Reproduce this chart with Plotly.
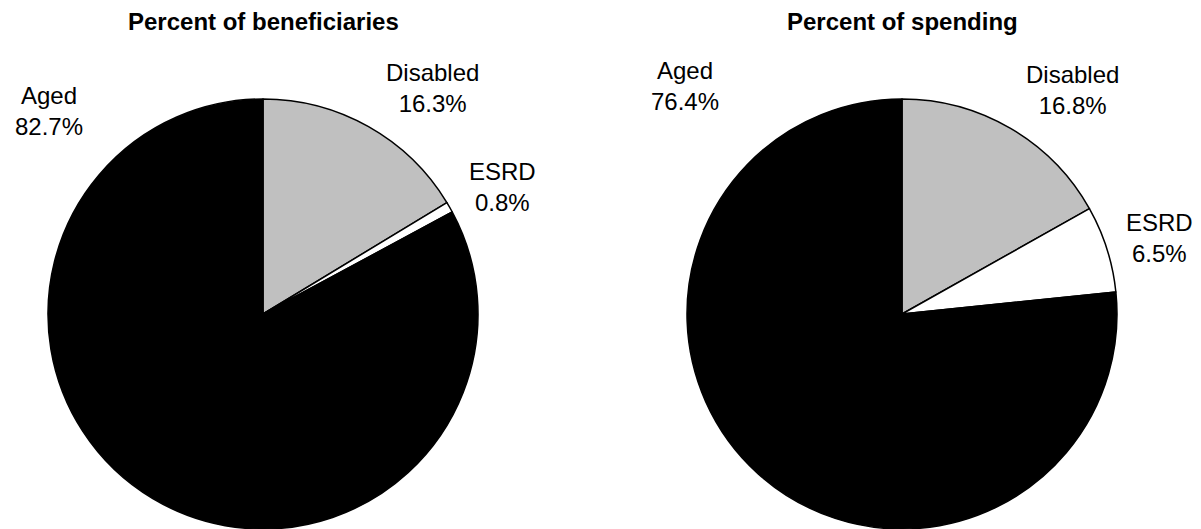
import plotly.graph_objects as go

# Medicare enrollment groups, clockwise from 12 o'clock
groups = ["Disabled", "ESRD", "Aged"]
beneficiaries_pct = [16.3, 0.8, 82.7]
spending_pct = [16.8, 6.5, 76.4]
titles = ["Percent of beneficiaries", "Percent of spending"]

slice_colors = ["#c0c0c0", "#ffffff", "#000000"]
FONT = "Liberation Sans, Arial, Helvetica, sans-serif"

W, H = 1201, 529

fig = go.Figure()

# pixel layout of the two pies (left, right, top, bottom)
pie_boxes = [(48, 478, 99, 529), (687, 1117, 99, 529)]

for vals, box in zip([beneficiaries_pct, spending_pct], pie_boxes):
    x0, x1, y0, y1 = box
    fig.add_trace(go.Pie(
        labels=groups,
        values=vals,
        sort=False,
        direction="clockwise",
        rotation=0,
        textinfo="none",
        hoverinfo="label+value",
        marker=dict(colors=slice_colors, line=dict(color="#000000", width=1.5)),
        domain=dict(x=[x0 / W, x1 / W], y=[1 - y1 / H, 1 - y0 / H]),
        showlegend=False,
    ))

# titles above each pie
title_pos = [(263, 21), (902, 21)]
annotations = []
for t, (px, py) in zip(titles, title_pos):
    annotations.append(dict(
        text=f"<b>{t}</b>", x=px / W, y=1 - py / H, xref="paper", yref="paper",
        xanchor="center", yanchor="middle", showarrow=False,
        font=dict(family=FONT, size=24, color="#000000"),
    ))

# slice labels placed outside each pie
label_pos = [
    {"Aged": (49, 111), "Disabled": (432, 88), "ESRD": (502, 187)},
    {"Aged": (685, 86), "Disabled": (1072, 90), "ESRD": (1159, 238)},
]
for vals, pos in zip([beneficiaries_pct, spending_pct], label_pos):
    for g, v in zip(groups, vals):
        px, py = pos[g]
        annotations.append(dict(
            text=f"{g}<br>{v:.1f}%", x=px / W, y=1 - py / H, xref="paper", yref="paper",
            xanchor="center", yanchor="middle", showarrow=False, align="center",
            font=dict(family=FONT, size=24, color="#000000"),
        ))

fig.update_layout(
    width=W, height=H,
    margin=dict(l=0, r=0, t=0, b=0),
    paper_bgcolor="#ffffff",
    plot_bgcolor="#ffffff",
    annotations=annotations,
)

fig.write_html("out.html")
